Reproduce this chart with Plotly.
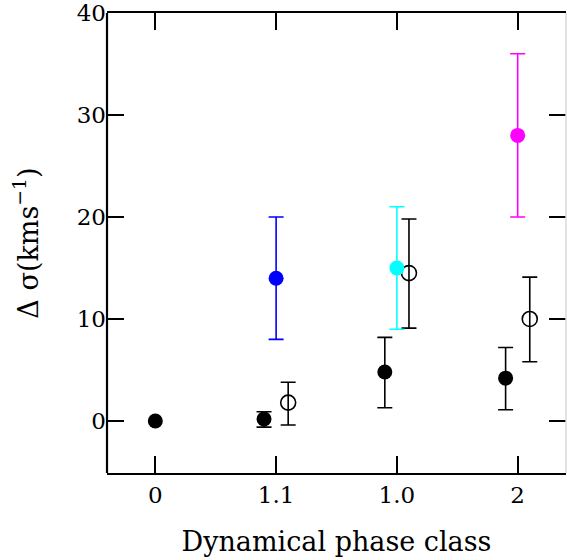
import plotly.graph_objects as go

# Dynamical phase classes along the x axis
classes = ["0", "1.1", "1.0", "2"]

# Filled black points (one per class)
filled_val = [0.0, 0.2, 4.8, 4.2]
filled_err_hi = [0.0, 0.7, 3.4, 3.0]
filled_err_lo = [0.0, 0.8, 3.5, 3.1]

# Open circles (classes 1.1, 1.0, 2)
open_classes = ["1.1", "1.0", "2"]
open_val = [1.8, 14.5, 10.0]
open_err_hi = [2.0, 5.3, 4.1]
open_err_lo = [2.2, 5.4, 4.2]

# Coloured points (classes 1.1, 1.0, 2)
col_classes = ["1.1", "1.0", "2"]
col_val = [14.0, 15.0, 28.0]
col_err = [6.0, 6.0, 8.0]
col_colors = ["#0000ff", "#00ffff", "#ff00ff"]

FONT = "DejaVu Serif"
idx = {c: i for i, c in enumerate(classes)}
DODGE = 0.1
MSIZE = 15

fig = go.Figure()

# filled points: single point in class 0 stays centred, others shift left
fx = [idx[c] - (DODGE if c in col_classes else 0.0) for c in classes]
for x, v, hi, lo in zip(fx, filled_val, filled_err_hi, filled_err_lo):
    show_err = hi > 0 or lo > 0
    fig.add_trace(go.Scatter(
        x=[x], y=[v], mode="markers",
        marker=dict(size=MSIZE, color="black", line=dict(width=0)),
        error_y=dict(type="data", symmetric=False, array=[hi], arrayminus=[lo],
                     visible=show_err, color="black", thickness=1.6, width=7.5),
        showlegend=False,
    ))

# open circles shift right
ox = [idx[c] + DODGE for c in open_classes]
fig.add_trace(go.Scatter(
    x=ox, y=open_val, mode="markers",
    marker=dict(size=MSIZE, color="black", symbol="circle-open",
                line=dict(width=1.6, color="black")),
    error_y=dict(type="data", symmetric=False, array=open_err_hi, arrayminus=open_err_lo,
                 color="black", thickness=1.6, width=7.5),
    showlegend=False,
))

# coloured points centred on the class
for c, v, e, col in zip(col_classes, col_val, col_err, col_colors):
    fig.add_trace(go.Scatter(
        x=[idx[c]], y=[v], mode="markers",
        marker=dict(size=MSIZE, color=col, line=dict(width=0)),
        error_y=dict(type="data", array=[e], color=col, thickness=1.6, width=7.5),
        showlegend=False,
    ))

# frame: black left line, pale right edge
fig.add_shape(type="line", xref="paper", yref="paper", x0=0, x1=0, y0=0, y1=1,
              line=dict(color="black", width=2.2))
fig.add_shape(type="line", xref="paper", yref="paper", x0=1, x1=1, y0=0, y1=1,
              line=dict(color="#d8d8d8", width=1.5))

fig.update_layout(
    width=567, height=560,
    margin=dict(l=107, r=1, t=13, b=87),
    paper_bgcolor="white", plot_bgcolor="white",
    font=dict(family=FONT, color="black", size=23),
    xaxis=dict(
        range=[-0.4, 3.4], tickmode="array", tickvals=list(range(len(classes))),
        ticktext=classes, ticks="inside", ticklen=17, tickwidth=1.6, tickcolor="black",
        showline=True, linecolor="black", linewidth=2.2, mirror="ticks",
        showgrid=False, zeroline=False,
        tickfont=dict(family=FONT, size=23),
        title=dict(text="Dynamical phase class", font=dict(family=FONT, size=27), standoff=25),
    ),
    yaxis=dict(
        range=[-5.1, 40], tickmode="array", tickvals=[0, 10, 20, 30, 40],
        ticks="inside", ticklen=17, tickwidth=1.6, tickcolor="black",
        showline=False, mirror="ticks",
        showgrid=False, zeroline=False,
        tickfont=dict(family=FONT, size=23),
        title=dict(text="Δ σ(kms<sup>−1</sup>)", font=dict(family=FONT, size=27), standoff=30),
    ),
)

fig.write_html("out.html")
